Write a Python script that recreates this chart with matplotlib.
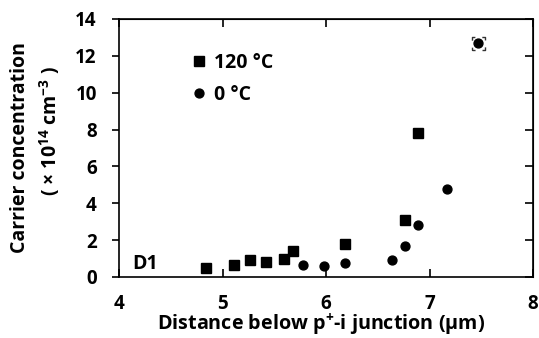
import matplotlib
matplotlib.use("Agg")
import matplotlib.pyplot as plt

plt.rcParams['font.family'] = ['Open Sans', 'DejaVu Sans']
plt.rcParams['font.weight'] = 'bold'
plt.rcParams['mathtext.fontset'] = 'custom'
plt.rcParams['mathtext.rm'] = 'Open Sans:bold'
plt.rcParams['mathtext.bf'] = 'Open Sans:bold'
plt.rcParams['mathtext.it'] = 'Open Sans:bold'
plt.rcParams['mathtext.default'] = 'rm'

# Carrier concentration profiles (x 1e14 cm^-3) vs depth below the p+-i junction (um)
depth_120C = [4.84, 5.11, 5.27, 5.42, 5.59, 5.68, 6.18, 6.76, 6.89]
conc_120C = [0.47, 0.67, 0.90, 0.81, 0.99, 1.43, 1.79, 3.09, 7.83]
depth_0C = [5.78, 5.98, 6.18, 6.64, 6.76, 6.89, 7.17, 7.47]
conc_0C = [0.67, 0.61, 0.74, 0.90, 1.70, 2.80, 4.76, 12.68]
# highlighted (selected) point
sel_depth = [7.47]
sel_conc = [12.68]

x_ticks = [4, 5, 6, 7, 8]
y_ticks = [0, 2, 4, 6, 8, 10, 12, 14]

fig = plt.figure(figsize=(5.39, 3.38), dpi=100)
ax = fig.add_axes([119 / 539, 61 / 338, 414 / 539, 258 / 338])

ax.plot(depth_120C, conc_120C, linestyle='none', marker='s', markersize=7.8,
        color='black', label='120 \u00b0C')
ax.plot(depth_0C, conc_0C, linestyle='none', marker='o', markersize=6.4,
        color='black', label='0 \u00b0C')
ax.scatter(sel_depth, sel_conc, marker='s', s=9.4 ** 2, facecolors='none',
           edgecolors='#333333', linewidths=1.0,
           linestyles=[(2.2, (4.4, 5.0))], zorder=3)

ax.set_xlim(4, 8)
ax.set_ylim(0, 14)
ax.set_xticks(x_ticks)
ax.set_yticks(y_ticks)

for s in ax.spines.values():
    s.set_linewidth(1.2)

ax.tick_params(axis='x', direction='in', length=6, width=1.2, pad=12,
               labelsize=13.5)
ax.tick_params(axis='y', direction='out', length=5, width=1.2, pad=11,
               labelsize=13.5)

top = ax.secondary_xaxis('top')
top.set_xticks(x_ticks)
top.tick_params(direction='in', length=6, width=1.2, labeltop=False)
right = ax.secondary_yaxis('right')
right.set_yticks(y_ticks)
right.tick_params(direction='in', length=6, width=1.2, labelright=False)

fig.text(321 / 539, 1 - 330 / 338, 'Distance below p$^{+}$-i junction (\u00b5m)',
         ha='center', va='baseline', fontsize=14.2, fontweight='bold')

fig.text(20 / 539, 1 - 148 / 338, 'Carrier concentration', rotation=90,
         ha='center', va='center', fontsize=14)
fig.text(50 / 539, 1 - 131 / 338, '( \u00d7 10$^{14}$ cm$^{-3}$ )',
         rotation=90, ha='center', va='center', fontsize=14)

ax.text(0.031, 0.05, 'D1', transform=ax.transAxes, ha='left', va='center',
        fontsize=14)

ax.legend(loc='upper left', bbox_to_anchor=(0.18, 0.87), frameon=False,
          fontsize=14, handlelength=0.6, handletextpad=0.45,
          labelspacing=0.62, borderpad=0, borderaxespad=0)

fig.savefig('out.png', dpi=100)
